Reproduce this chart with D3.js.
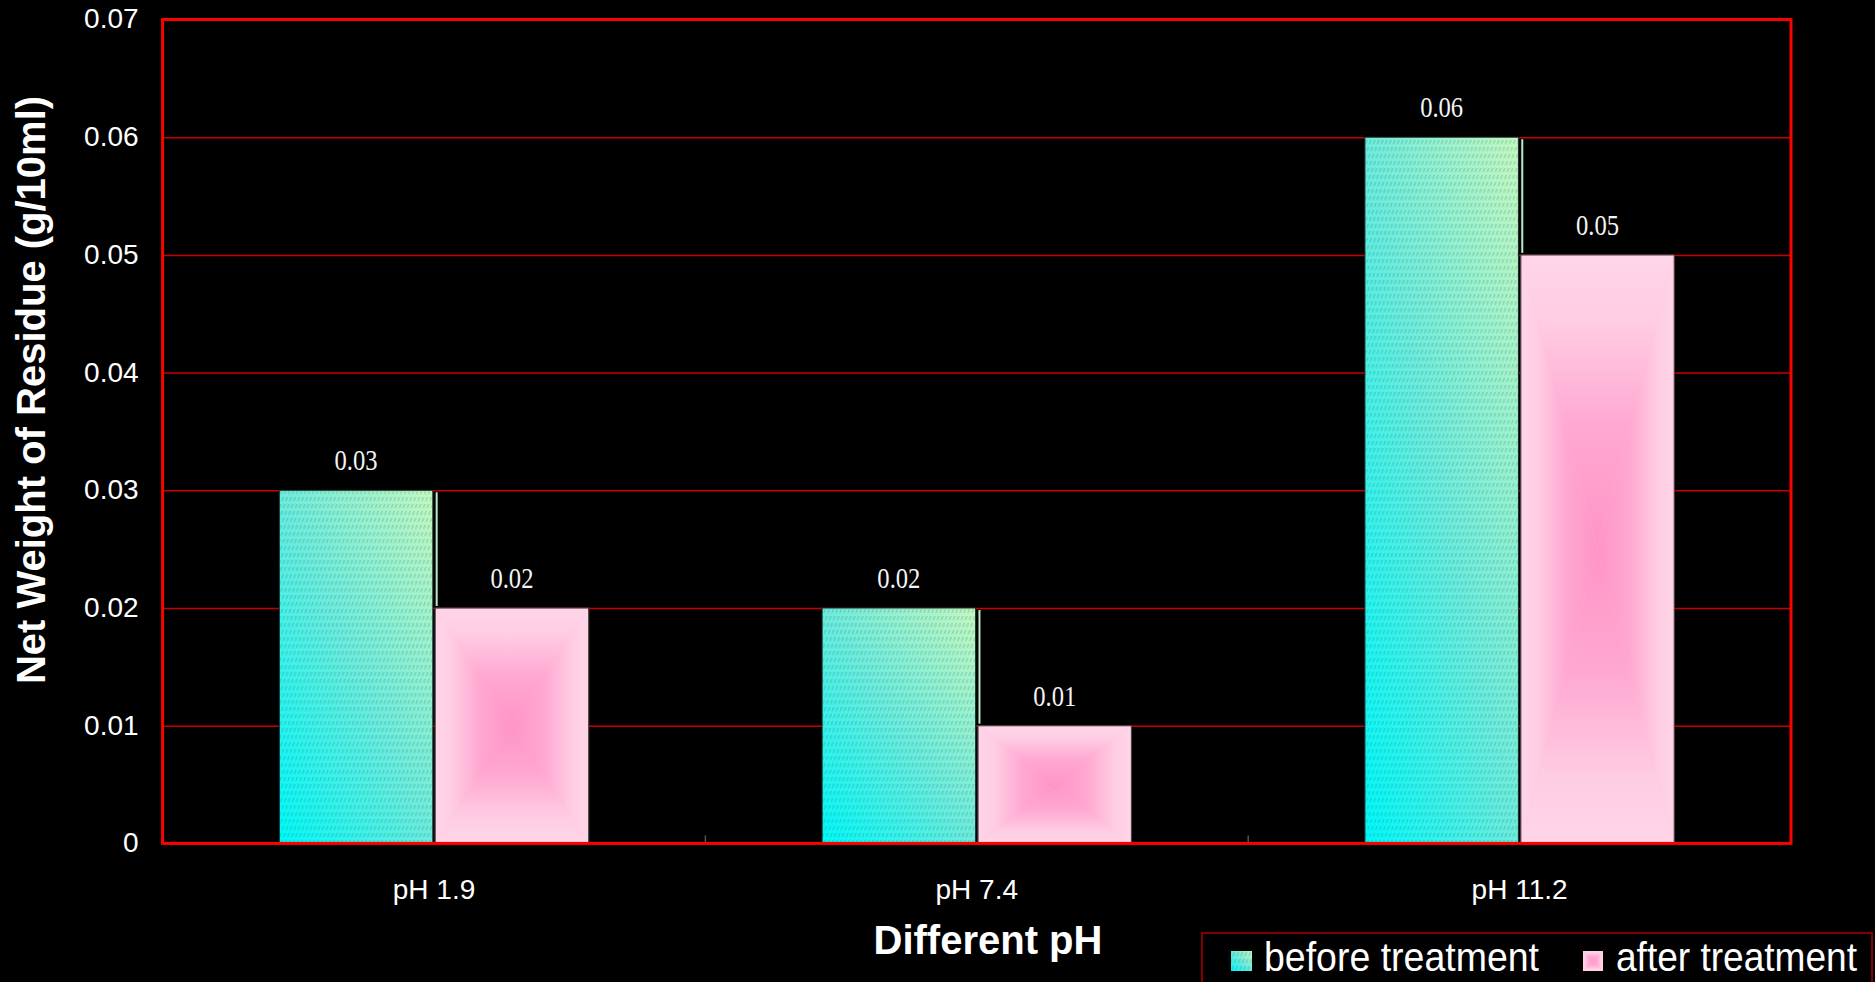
<!DOCTYPE html>
<html>
<head>
<meta charset="utf-8">
<script src="https://cdn.jsdelivr.net/npm/d3@7/dist/d3.min.js"></script>
<style>
	html, body { margin: 0; padding: 0; background: #000; }
	svg { display: block; }
</style>
</head>
<body>
<div id="chart"></div>
<script>
// chart values
const categories = ["pH 1.9", "pH 7.4", "pH 11.2"];
const seriesNames = ["before treatment", "after treatment"];
const beforeValues = [0.03, 0.02, 0.06];
const afterValues = [0.02, 0.01, 0.05];
const yTicks = [0, 0.01, 0.02, 0.03, 0.04, 0.05, 0.06, 0.07];

const width = 1875, height = 982;
const margin = {top: 19.5, right: 84, bottom: 138.6, left: 162.6};

const svg = d3.select("#chart").append("svg")
	.attr("width", width)
	.attr("height", height);

svg.append("rect")
	.attr("width", width)
	.attr("height", height)
	.attr("fill", "#000");

// fills
const defs = svg.append("defs");

let greenGrad = defs.append("linearGradient")
	.attr("id", "greenGrad")
	.attr("x1", 0).attr("y1", 1)
	.attr("x2", 1).attr("y2", 0);
greenGrad.append("stop").attr("offset", "0%").attr("stop-color", "#00f8f8");
greenGrad.append("stop").attr("offset", "50%").attr("stop-color", "#6eebdc");
greenGrad.append("stop").attr("offset", "100%").attr("stop-color", "#c6f7bf");

let hatch = defs.append("pattern")
	.attr("id", "hatch")
	.attr("patternUnits", "userSpaceOnUse")
	.attr("width", 4)
	.attr("height", 7)
	.attr("patternTransform", "skewX(-20)");
hatch.append("line")
	.attr("x1", 1).attr("y1", 0)
	.attr("x2", 1).attr("y2", 4)
	.attr("stroke", "rgba(0, 110, 110, 0.36)")
	.attr("stroke-width", 1);

// "from centre" rectangular gradient: one linear gradient per side
const pinkStops = [
	["0%", "#ffd5e8"], ["22%", "#ffcde3"], ["58%", "#ffa8d1"], ["100%", "#ff94c6"]
];
const sides = {
	top: [0, 0, 0, 1],
	bottom: [0, 1, 0, 0],
	left: [0, 0, 1, 0],
	right: [1, 0, 0, 0]
};
Object.keys(sides).forEach(k => {
	let s = sides[k];
	let g = defs.append("linearGradient")
		.attr("id", `pink-${k}`)
		.attr("x1", s[0]).attr("y1", s[1])
		.attr("x2", s[2]).attr("y2", s[3]);
	pinkStops.forEach(p => g.append("stop").attr("offset", p[0]).attr("stop-color", p[1]));
});

function pinkRect(sel, x0, y0, w, h) {
	let cx = x0 + w / 2, cy = y0 + h / 2;
	let tris = {
		top: [[x0, y0], [x0 + w, y0], [cx, cy]],
		bottom: [[x0, y0 + h], [x0 + w, y0 + h], [cx, cy]],
		left: [[x0, y0], [x0, y0 + h], [cx, cy]],
		right: [[x0 + w, y0], [x0 + w, y0 + h], [cx, cy]]
	};
	sel.append("rect")
		.attr("x", x0).attr("y", y0)
		.attr("width", w).attr("height", h)
		.attr("fill", "#ffbcdc");
	Object.keys(tris).forEach(k => {
		sel.append("path")
			.attr("d", d3.line()(tris[k]) + "Z")
			.attr("fill", `url(#pink-${k})`);
	});
}

// scales
const x = d3.scaleBand()
	.domain(categories)
	.range([margin.left, width - margin.right])
	.paddingInner(0.43)
	.paddingOuter(0.215);

const xSub = d3.scaleBand()
	.domain(seriesNames)
	.range([0, x.bandwidth()])
	.paddingInner(0.015);

const y = d3.scaleLinear()
	.domain([0, 0.07])
	.range([height - margin.bottom, margin.top]);

const plotW = width - margin.left - margin.right;
const plotH = height - margin.top - margin.bottom;

// grid lines
svg.append("g")
	.attr("class", "grid")
	.attr("transform", `translate(${margin.left},0)`)
	.call(d3.axisLeft(y).tickValues(yTicks.slice(1, -1)).tickSize(-plotW).tickFormat(""))
	.call(g => g.select(".domain").remove())
	.call(g => g.selectAll("line").attr("stroke", "#c80000").attr("stroke-width", 1.5));

// y axis labels
svg.append("g")
	.attr("class", "yaxis")
	.attr("transform", `translate(${margin.left},0)`)
	.call(d3.axisLeft(y).tickValues(yTicks).tickSize(0).tickPadding(24)
		.tickFormat(d => d === 0 ? "0" : d3.format(".2f")(d)))
	.call(g => g.select(".domain").remove())
	.call(g => g.selectAll("text")
		.attr("fill", "#fff")
		.attr("dy", "0.3em")
		.style("font", "28px 'Liberation Sans', Arial, sans-serif"));

// x axis labels
svg.append("g")
	.attr("class", "xaxis")
	.attr("transform", `translate(0,${height - margin.bottom})`)
	.call(d3.axisBottom(x).tickSize(0).tickPadding(36))
	.call(g => g.select(".domain").remove())
	.call(g => g.selectAll("text")
		.attr("fill", "#fff")
		.style("font", "28px 'Liberation Sans', Arial, sans-serif"));

// small separators between groups
svg.append("g")
	.selectAll("line")
	.data(categories.slice(1))
	.enter()
	.append("line")
	.attr("x1", d => x(d) - x.step() * x.paddingInner() / 2)
	.attr("x2", d => x(d) - x.step() * x.paddingInner() / 2)
	.attr("y1", y(0))
	.attr("y2", y(0) - 8)
	.attr("stroke", "#555")
	.attr("stroke-width", 1.5);

// bars
const groups = svg.append("g")
	.selectAll("g")
	.data(categories.map((c, i) => ({cat: c, before: beforeValues[i], after: afterValues[i]})))
	.enter()
	.append("g")
	.attr("transform", d => `translate(${x(d.cat)},0)`);

groups.append("line")
	.attr("x1", xSub("after treatment") + 1.5)
	.attr("x2", xSub("after treatment") + 1.5)
	.attr("y1", d => y(d.before) + 2)
	.attr("y2", d => y(d.after) - 2)
	.attr("stroke", "#b6eecb")
	.attr("stroke-width", 2);

groups.append("rect")
	.attr("x", xSub("before treatment"))
	.attr("y", d => y(d.before))
	.attr("width", xSub.bandwidth())
	.attr("height", d => y(0) - y(d.before))
	.attr("fill", "url(#greenGrad)")
	.attr("stroke", "#1a2a2a")
	.attr("stroke-width", 1);

groups.append("rect")
	.attr("x", xSub("before treatment"))
	.attr("y", d => y(d.before))
	.attr("width", xSub.bandwidth())
	.attr("height", d => y(0) - y(d.before))
	.attr("fill", "url(#hatch)");

groups.each(function (d) {
	pinkRect(d3.select(this), xSub("after treatment"), y(d.after), xSub.bandwidth(), y(0) - y(d.after));
});

groups.append("rect")
	.attr("x", xSub("after treatment"))
	.attr("y", d => y(d.after))
	.attr("width", xSub.bandwidth())
	.attr("height", d => y(0) - y(d.after))
	.attr("fill", "none")
	.attr("stroke", "#4a3a40")
	.attr("stroke-width", 1.2);

// value labels
const labelFont = "29px 'Liberation Serif', 'Times New Roman', serif";
groups.append("text")
	.attr("x", xSub("before treatment") + xSub.bandwidth() / 2)
	.attr("y", d => y(d.before) - 20)
	.attr("text-anchor", "middle")
	.attr("fill", "#f4f4f4")
	.attr("textLength", 43)
	.attr("lengthAdjust", "spacingAndGlyphs")
	.style("font", labelFont)
	.text(d => d.before);

groups.append("text")
	.attr("x", xSub("after treatment") + xSub.bandwidth() / 2)
	.attr("y", d => y(d.after) - 20)
	.attr("text-anchor", "middle")
	.attr("fill", "#f4f4f4")
	.attr("textLength", 43)
	.attr("lengthAdjust", "spacingAndGlyphs")
	.style("font", labelFont)
	.text(d => d.after);

// plot frame
svg.append("rect")
	.attr("x", margin.left)
	.attr("y", margin.top)
	.attr("width", plotW)
	.attr("height", plotH)
	.attr("fill", "none")
	.attr("stroke", "#ff0000")
	.attr("stroke-width", 3);

// titles
svg.append("text")
	.attr("transform", "translate(45,390) rotate(-90)")
	.attr("text-anchor", "middle")
	.attr("fill", "#fff")
	.style("font", "bold 40px 'Liberation Sans', Arial, sans-serif")
	.text("Net Weight of Residue (g/10ml)");

svg.append("text")
	.attr("x", 988)
	.attr("y", 954)
	.attr("text-anchor", "middle")
	.attr("fill", "#fff")
	.style("font", "bold 40px 'Liberation Sans', Arial, sans-serif")
	.text("Different pH");

// legend
const legend = svg.append("g");
legend.append("rect")
	.attr("x", 1202)
	.attr("y", 933)
	.attr("width", 670)
	.attr("height", 70)
	.attr("fill", "#000")
	.attr("stroke", "#b00000")
	.attr("stroke-width", 1.5);

legend.append("rect")
	.attr("x", 1231).attr("y", 951)
	.attr("width", 21).attr("height", 20)
	.attr("fill", "url(#greenGrad)");
legend.append("rect")
	.attr("x", 1231).attr("y", 951)
	.attr("width", 21).attr("height", 20)
	.attr("fill", "url(#hatch)");
pinkRect(legend, 1583, 951, 20, 20);

const legendText = [
	{name: seriesNames[0], x: 1264, len: 275},
	{name: seriesNames[1], x: 1616, len: 241}
];
legendText.forEach(item => {
	legend.append("text")
		.attr("x", item.x)
		.attr("y", 971)
		.attr("fill", "#fff")
		.attr("textLength", item.len)
		.attr("lengthAdjust", "spacingAndGlyphs")
		.style("font", "40px 'Liberation Sans', Arial, sans-serif")
		.text(item.name);
});
</script>
</body>
</html>
